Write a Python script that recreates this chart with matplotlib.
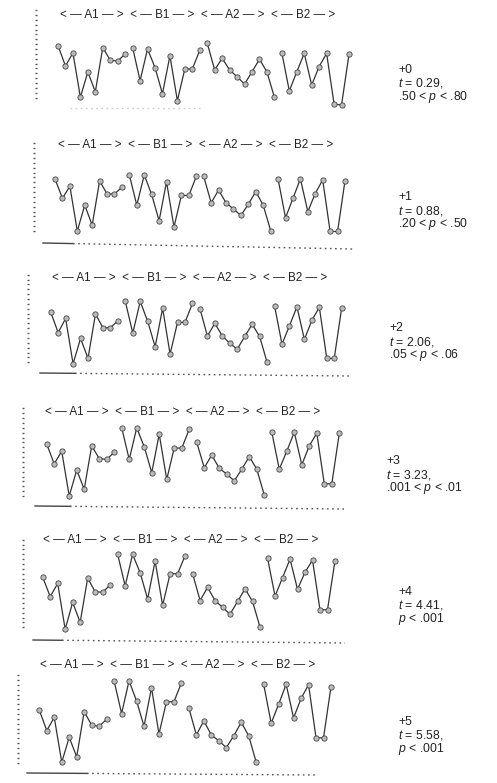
import numpy as np
import matplotlib
matplotlib.use("Agg")
import matplotlib.pyplot as plt

plt.rcParams["font.family"] = ["Liberation Sans", "DejaVu Sans"]
plt.rcParams["mathtext.fontset"] = "custom"
plt.rcParams["mathtext.it"] = "Liberation Sans:italic"
plt.rcParams["mathtext.rm"] = "Liberation Sans"

# scores per phase, one row per panel (+0 ... +5), read in tick units
a1 = [
    [10.7, 6.5, 9.2, 0.1, 5.3, 1.2, 10.3, 7.7, 7.5, 9.0],
    [10.7, 6.7, 9.2, 0.0, 5.3, 1.2, 10.3, 7.6, 7.6, 9.0],
    [10.3, 6.1, 9.0, -0.3, 4.9, 0.8, 9.9, 7.1, 7.1, 8.5],
    [10.7, 6.6, 9.2, 0.0, 5.3, 1.4, 10.3, 7.7, 7.5, 9.0],
    [10.3, 6.3, 9.0, -0.4, 5.1, 1.0, 10.1, 7.3, 7.2, 8.7],
    [10.8, 6.6, 9.3, 0.1, 5.2, 1.2, 10.5, 7.7, 7.5, 8.9],
]
b1 = [
    [10.3, 3.5, 10.0, 6.2, 0.8, 8.6, -0.6, 5.9, 5.9, 9.7],
    [11.5, 5.3, 11.5, 7.5, 2.1, 10.1, 0.8, 7.3, 7.3, 11.2],
    [12.5, 6.0, 12.5, 8.4, 3.2, 11.1, 1.7, 8.2, 8.2, 12.1],
    [14.0, 7.5, 14.0, 10.1, 4.8, 12.7, 3.4, 9.9, 9.8, 13.7],
    [15.0, 8.5, 15.0, 11.2, 5.8, 13.6, 4.5, 11.0, 11.0, 14.7],
    [16.8, 10.1, 16.8, 12.7, 7.5, 15.4, 5.9, 12.5, 12.5, 16.4],
]
a2 = [
    [11.2, 5.7, 8.1, 5.7, 4.3, 2.8, 5.3, 7.9, 5.3, 0.1],
    [11.2, 5.8, 8.4, 5.8, 4.5, 3.2, 5.5, 8.1, 5.3, 0.1],
    [11.0, 5.4, 8.0, 5.4, 3.9, 2.7, 5.3, 7.8, 5.3, 0.0],
    [11.0, 5.8, 8.4, 5.7, 4.5, 3.1, 5.5, 8.1, 5.5, 0.2],
    [11.0, 5.5, 8.2, 5.5, 4.1, 2.7, 5.3, 7.9, 5.3, 0.0],
    [11.2, 5.7, 8.6, 5.7, 4.5, 3.1, 5.5, 8.3, 5.5, 0.1],
]
b2 = [
    [9.2, 1.4, 5.3, 9.1, 2.6, 6.4, 9.1, -1.3, -1.5, 8.9],
    [10.7, 2.7, 6.7, 10.7, 4.0, 7.7, 10.5, -0.1, -0.1, 10.3],
    [11.6, 3.7, 7.5, 11.4, 4.7, 8.6, 11.3, 0.8, 0.8, 11.2],
    [13.1, 5.5, 9.2, 13.1, 6.4, 10.3, 12.9, 2.5, 2.5, 12.9],
    [14.2, 6.4, 10.2, 14.0, 7.8, 11.3, 13.8, 3.6, 3.6, 13.7],
    [16.1, 8.1, 12.0, 16.1, 9.2, 13.2, 16.0, 5.1, 5.1, 15.6],
]
shift_labels = ["+0", "+1", "+2", "+3", "+4", "+5"]
t_values = ["0.29", "0.88", "2.06", "3.23", "4.41", "5.58"]
p_labels = [".50 < $p$ < .80", ".20 < $p$ < .50", ".05 < $p$ < .06",
            ".001 < $p$ < .01", "$p$ < .001", "$p$ < .001"]
header = "< — A1 — >  < — B1 — >  < — A2 — >  < — B2 — >"

W, H = 497, 783
SY = 4.87  # px per tick unit

# pixel layout of each panel (scan is slightly skewed)
# x of first point, x of last point, y of zero tick, x of tick marks
layout = [
    (58.0, 349.0, 97.7, 35),
    (55.0, 345.0, 231.0, 33),
    (50.7, 341.7, 362.3, 27),
    (46.7, 339.3, 496.0, 22),
    (42.7, 335.0, 627.3, 22),
    (39.3, 331.0, 762.7, 17),
]
header_pos = [(60, 15), (58, 145), (52, 278), (45, 412), (43, 540), (40, 665)]
label_pos = [(398, 70), (398, 197), (389, 328), (386, 461), (398, 592), (398, 722)]
# baseline: (x start, x end, y start, y end, solid part end)
base_pos = [
    (70, 200, 108, 108, 70),
    (43, 353, 243, 249, 73),
    (40, 350, 373, 376, 75),
    (35, 345, 506, 509, 70),
    (33, 345, 640, 643, 62),
    (27, 315, 773, 775, 87),
]

fig = plt.figure(figsize=(W / 100, H / 100), dpi=100)
fig.patch.set_facecolor("white")

xlim = (-4, 42)
ylim = (-4, 21)
for i in range(6):
    x0, x1, yb, tx = layout[i]
    dx = (x1 - x0) / 39
    left = x0 + xlim[0] * dx
    width = (xlim[1] - xlim[0]) * dx
    top = yb - ylim[1] * SY
    bottom = yb - ylim[0] * SY
    ax = fig.add_axes([left / W, 1 - bottom / H, width / W, (bottom - top) / H])
    ax.set_xlim(xlim)
    ax.set_ylim(ylim)
    ax.axis("off")

    for j, phase in enumerate([a1[i], b1[i], a2[i], b2[i]]):
        xs = 10 * j + np.arange(10)
        ax.plot(xs, phase, color="#333333", lw=0.9, marker="o", ms=3.8,
                mfc="#bbbbbb", mec="#444444", mew=0.6, clip_on=False)

    # dotted left scale
    xt = (tx - x0) / dx
    ax.hlines(np.arange(19), xt, xt + 2.2 / dx, color="#555555", lw=1.0)

    # baseline under the panel
    bx0, bx1, by0, by1, bs = base_pos[i]
    px = np.array([bx0, bs, bx1])
    py = np.interp(px, [bx0, bx1], [by0, by1])
    xd = (px - x0) / dx
    yd = (yb - py) / SY
    light = "#cccccc" if i == 0 else "#555555"
    if i > 0:
        ax.plot(xd[:2], yd[:2], color="#444444", lw=1.0, clip_on=False)
    ax.plot(xd[1:], yd[1:], color=light, lw=1.0, ls=(0, (1.2, 2.5)), clip_on=False)

    hx, hy = header_pos[i]
    ax.text((hx - x0) / dx, (yb - hy) / SY, header, ha="left", va="center",
            fontsize=8.4, color="#222222")

    lx, ly = label_pos[i]
    fig.text(lx / W, 1 - ly / H, shift_labels[i], fontsize=8.8, color="#222222", va="center")
    fig.text(lx / W, 1 - (ly + 13.5) / H, "$t$ = " + t_values[i] + ",", fontsize=8.8,
             color="#222222", va="center")
    fig.text(lx / W, 1 - (ly + 27) / H, p_labels[i], fontsize=8.8, color="#222222", va="center")

fig.savefig("out.png", dpi=100)
